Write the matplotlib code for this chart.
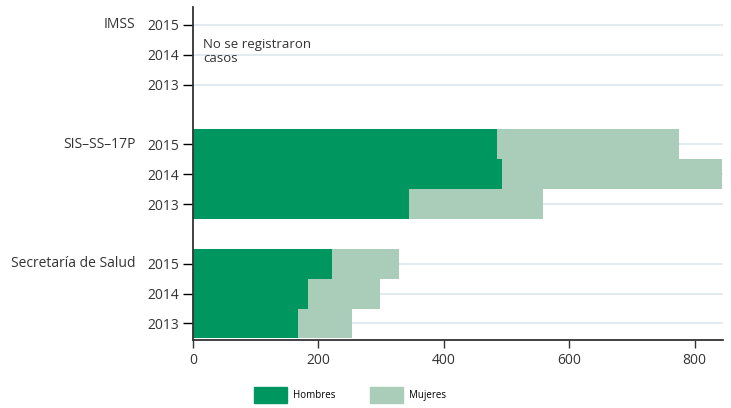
import matplotlib.pyplot as plt
from matplotlib.patches import Patch

# data
sources = ["IMSS", "SIS\u2013SS\u201317P", "Secretaría de Salud"]
years = ["2015", "2014", "2013"]
hombres = {
    "IMSS": [0, 0, 0],
    "SIS\u2013SS\u201317P": [484, 492, 344],
    "Secretaría de Salud": [221, 183, 167],
}
mujeres = {
    "IMSS": [0, 0, 0],
    "SIS\u2013SS\u201317P": [291, 351, 214],
    "Secretaría de Salud": [107, 115, 87],
}

c_h = "#00965f"
c_m = "#a9cdb9"
grid_c = "#dde8ec"

plt.rcParams['font.family'] = ['Open Sans', 'DejaVu Sans']

fig = plt.figure(figsize=(7.31, 4.08), dpi=100)
ax = fig.add_axes([0.264, 0.167, 0.725, 0.816])

ypos = []
ylabels = []
top = 10
for i, src in enumerate(sources):
    for j, yr in enumerate(years):
        y = top - i * 4 - j
        ypos.append(y)
        ylabels.append(yr)
        ax.axhline(y, color=grid_c, lw=1.2, zorder=0)
        h = hombres[src][j]
        m = mujeres[src][j]
        if h + m > 0:
            ax.barh(y, h, height=1.0, color=c_h, zorder=2)
            ax.barh(y, m, left=h, height=1.0, color=c_m, zorder=2)
    # group label left of the year labels
    ax.text(-0.108, top - i * 4, src, transform=ax.get_yaxis_transform(),
            ha="right", va="center", fontsize=10, color="#333333")

ax.text(16, 9.55, "No se registraron\ncasos", ha="left", va="top",
        fontsize=9.5, color="#333333", linespacing=1.1)

ax.set_yticks(ypos)
ax.set_yticklabels(ylabels, fontsize=10, color="#333333")
ax.set_xticks([0, 200, 400, 600, 800])
ax.tick_params(axis="x", labelsize=10, colors="#333333", length=6, width=1)
ax.tick_params(axis="y", length=7, width=1, pad=3)
ax.set_xlim(0, 845)
ax.set_ylim(-0.55, 10.6)

for s in ["top", "right"]:
    ax.spines[s].set_visible(False)
for s in ["left", "bottom"]:
    ax.spines[s].set_color("#333333")
    ax.spines[s].set_linewidth(1.3)

handles = [Patch(color=c_h, label="Hombres"), Patch(color=c_m, label="Mujeres")]
fig.legend(handles=handles, loc="lower left", bbox_to_anchor=(0.335, -0.01),
           ncol=2, frameon=False, fontsize=7, handlelength=3.4, handleheight=2.2,
           columnspacing=3.6, handletextpad=0.6)

fig.savefig("out.png", dpi=100)
